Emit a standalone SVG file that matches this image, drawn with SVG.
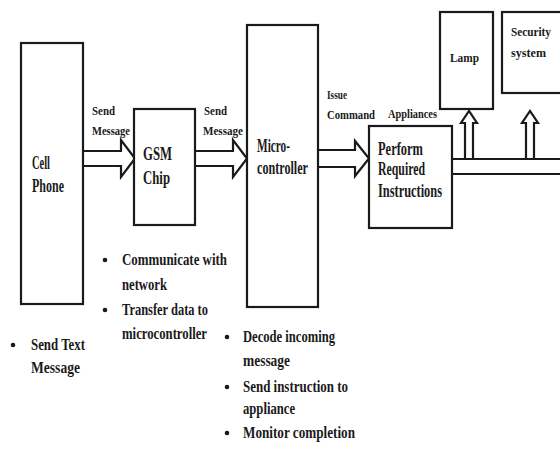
<svg xmlns="http://www.w3.org/2000/svg" width="560" height="453" viewBox="0 0 560 453">
<style>
.box{fill:#fff;stroke:#1a1a1a;stroke-width:2.2}
.ln{fill:none;stroke:#1a1a1a;stroke-width:2.2;stroke-linejoin:miter}
text{font-family:"Liberation Serif","Times New Roman",serif;font-weight:bold;fill:#1a1a1a}
.n{font-size:18px}
.s{font-size:13px}
.b{font-size:17px}
.dot{fill:#1a1a1a}
</style>
<rect width="560" height="453" fill="#fff"/>
<g id="connectors">
<path class="ln" d="M83,151 H121 V140 L135,158.5 L121,177 V166 H83"/>
<path class="ln" d="M195,151 H233 V140 L247,158.5 L233,177 V166 H195"/>
<path class="ln" d="M318,150 H355 V141 L369,158.5 L355,176 V167 H318"/>
<path class="ln" d="M452,159 H560 M452,174 H560"/>
<path class="ln" d="M465,159 V123 H461 L469,111 L477,123 H473 V159"/>
<path class="ln" d="M526,159 V123 H522 L530,111 L538,123 H534 V159"/>
<text class="s" x="92" y="115" textLength="23" lengthAdjust="spacingAndGlyphs">Send</text>
<text class="s" x="92" y="135" textLength="38" lengthAdjust="spacingAndGlyphs">Message</text>
<text class="s" x="204" y="115" textLength="23" lengthAdjust="spacingAndGlyphs">Send</text>
<text class="s" x="203" y="135" textLength="40" lengthAdjust="spacingAndGlyphs">Message</text>
<text class="s" x="327" y="99" textLength="20" lengthAdjust="spacingAndGlyphs">Issue</text>
<text class="s" x="327" y="119" textLength="48" lengthAdjust="spacingAndGlyphs">Command</text>
<text class="s" x="388" y="118" textLength="49" lengthAdjust="spacingAndGlyphs">Appliances</text>
</g>
<g id="cell-phone">
<rect class="box" x="21" y="43" width="62" height="261"/>
<text class="n" x="32" y="169" textLength="18" lengthAdjust="spacingAndGlyphs">Cell</text>
<text class="n" x="32" y="192" textLength="32" lengthAdjust="spacingAndGlyphs">Phone</text>
<circle class="dot" cx="13" cy="345" r="2.3"/>
<text class="b" x="31" y="350" textLength="54" lengthAdjust="spacingAndGlyphs">Send Text</text>
<text class="b" x="31" y="373" textLength="49" lengthAdjust="spacingAndGlyphs">Message</text>
</g>
<g id="gsm-chip">
<rect class="box" x="134" y="109" width="61" height="116"/>
<text class="n" x="143" y="160" textLength="29" lengthAdjust="spacingAndGlyphs">GSM</text>
<text class="n" x="143" y="184" textLength="27" lengthAdjust="spacingAndGlyphs">Chip</text>
<circle class="dot" cx="105" cy="260" r="2.3"/>
<text class="b" x="122" y="265" textLength="105" lengthAdjust="spacingAndGlyphs">Communicate with</text>
<text class="b" x="122" y="290" textLength="45" lengthAdjust="spacingAndGlyphs">network</text>
<circle class="dot" cx="105" cy="310" r="2.3"/>
<text class="b" x="122" y="315" textLength="86" lengthAdjust="spacingAndGlyphs">Transfer data to</text>
<text class="b" x="122" y="339" textLength="85" lengthAdjust="spacingAndGlyphs">microcontroller</text>
</g>
<g id="microcontroller">
<rect class="box" x="247" y="25" width="71" height="282"/>
<text class="n" x="257" y="152" textLength="33" lengthAdjust="spacingAndGlyphs">Micro-</text>
<text class="n" x="257" y="174" textLength="51" lengthAdjust="spacingAndGlyphs">controller</text>
<circle class="dot" cx="227" cy="337" r="2.3"/>
<text class="b" x="243" y="342" textLength="92" lengthAdjust="spacingAndGlyphs">Decode incoming</text>
<text class="b" x="243" y="366" textLength="47" lengthAdjust="spacingAndGlyphs">message</text>
<circle class="dot" cx="227" cy="387" r="2.3"/>
<text class="b" x="243" y="392" textLength="105" lengthAdjust="spacingAndGlyphs">Send instruction to</text>
<text class="b" x="243" y="414" textLength="52" lengthAdjust="spacingAndGlyphs">appliance</text>
<circle class="dot" cx="227" cy="433" r="2.3"/>
<text class="b" x="243" y="438" textLength="112" lengthAdjust="spacingAndGlyphs">Monitor completion</text>
</g>
<g id="perform">
<rect class="box" x="369" y="126" width="83" height="102"/>
<text class="n" x="378" y="155" textLength="45" lengthAdjust="spacingAndGlyphs">Perform</text>
<text class="n" x="378" y="175" textLength="47" lengthAdjust="spacingAndGlyphs">Required</text>
<text class="n" x="378" y="197" textLength="64" lengthAdjust="spacingAndGlyphs">Instructions</text>
</g>
<g id="lamp">
<rect class="box" x="440" y="12" width="53" height="97"/>
<text class="s" x="450" y="62" textLength="29" lengthAdjust="spacingAndGlyphs">Lamp</text>
</g>
<g id="security">
<rect class="box" x="502" y="12" width="80" height="81"/>
<text class="s" x="511" y="36" textLength="40" lengthAdjust="spacingAndGlyphs">Security</text>
<text class="s" x="511" y="57" textLength="35" lengthAdjust="spacingAndGlyphs">system</text>
</g>
</svg>
